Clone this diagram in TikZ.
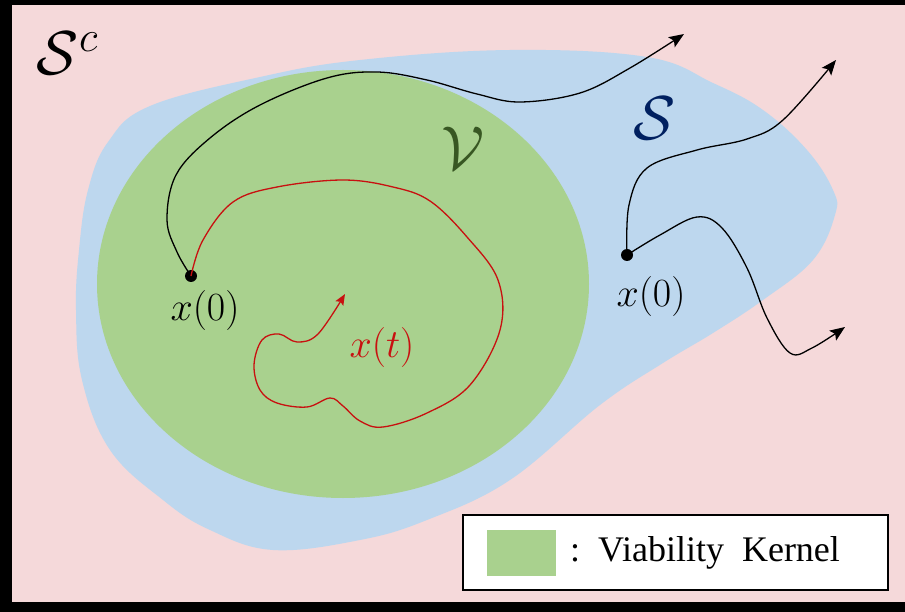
\RequirePackage{fix-cm}
\documentclass[tikz,border=0pt]{standalone}
\usepackage{graphicx}
\usepackage{fontspec}
\newfontfamily\legendfont{Liberation Serif}
\usetikzlibrary{arrows.meta}
\definecolor{pinkbg}{RGB}{245,217,218}
\definecolor{blueS}{RGB}{189,215,238}
\definecolor{greenV}{RGB}{169,209,142}
\definecolor{darkblue}{RGB}{0,32,96}
\definecolor{darkgreen}{RGB}{56,87,35}
\definecolor{trajred}{RGB}{200,16,16}
\newcommand{\bigmath}[2]{\scalebox{#1}{\fontsize{20}{24}\selectfont$#2$}}
\tikzset{
  traj/.style={line width=1.3pt, -{Stealth[length=15pt,width=12pt,inset=3pt]}},
  redtraj/.style={line width=1.3pt, trajred, -{Stealth[length=11pt,width=9pt,inset=2pt]}},
  dotnode/.style={circle, fill=black, inner sep=0pt, minimum size=12pt},
  lbl/.style={inner sep=0pt},
}
\begin{document}
\begin{tikzpicture}[x=1pt,y=-1pt]
\useasboundingbox (0,0) rectangle (905,612);
% frame
\fill[black] (0,0) rectangle (905,612);
\fill[pinkbg] (12,5) rectangle (905,602);
% safe set S
\fill[blueS] plot[smooth cycle, tension=0.65] coordinates {
 (79,250) (88,190) (108,142) (150,106) (260,77) (360,60) (510,50)
 (647,57) (713,83) (763,110) (807,150) (833,190) (835,215) (813,260)
 (763,300) (713,333) (663,363) (600,405) (510,480) (427,520) (360,540)
 (273,550) (210,530) (163,500) (110,450) (82,380) (76,310)};
% viability kernel
\fill[greenV] (343,284) ellipse [x radius=246, y radius=214];
% labels
\node[lbl] (Sc) at (68,53) {\bigmath{3.1}{\mathcal{S}^{c}}};
\node[lbl, text=darkblue] (S) at (655,118) {\bigmath{3.1}{\mathcal{S}}};
\node[lbl, text=darkgreen] (V) at (463,148) {\bigmath{3.1}{\mathcal{V}}};
% points
\node[dotnode] (d1) at (191,276) {};
\node[dotnode] (d2) at (627,255) {};
\node[lbl] (l1) at (205,311) {\bigmath{2}{x(0)}};
\node[lbl] (l2) at (651,297) {\bigmath{2}{x(0)}};
\node[lbl, text=trajred] (lt) at (382,348) {\bigmath{2}{x(t)}};
% free ends
\coordinate (e1) at (684,34);
\coordinate (e2) at (836,60);
\coordinate (e3) at (845,327);
\coordinate (e4) at (345,294);
% black trajectory from d1
\draw[traj] plot[smooth, tension=0.6] coordinates {
 (d1.center) (177,252) (167,220) (176,175) (210,138) (260,105) (327,78)
 (377,72) (427,80) (477,94) (520,102) (580,93) (630,68) (e1)};
% trajectories from d2
\draw[traj] plot[smooth, tension=0.6] coordinates {
 (d2.center) (629,205) (647,168) (697,150) (747,139) (783,120) (e2)};
\draw[traj] plot[smooth, tension=0.6] coordinates {
 (d2.center) (660,235) (697,217) (722,228) (747,268) (767,318) (790,353) (812,348) (e3)};
% red trajectory staying in V
\draw[redtraj] plot[smooth, tension=0.6] coordinates {
 (d1.center) (203,240) (233,202) (277,187) (343,180) (393,187) (430,201)
 (467,237) (498,280) (500,330) (470,385) (427,413) (383,427) (360,421)
 (343,406) (330,398) (307,407) (277,403) (260,390) (254,365) (262,340)
 (279,334) (297,342) (318,334) (e4)};
% legend
\node[draw=black, line width=2.5pt, fill=white, minimum width=425pt, minimum height=75pt, inner sep=0pt] (leg) at (675.5,552.5) {};
\node[fill=greenV, minimum width=69pt, minimum height=46pt, inner sep=0pt] (legsq) at (521.5,553) {};
\node[anchor=west, font=\legendfont\fontsize{36}{40}\selectfont, inner sep=0pt] (legtxt) at (570,553) {:\hspace{0.5em}Viability\hspace{0.5em}Kernel};
\end{tikzpicture}
\end{document}
